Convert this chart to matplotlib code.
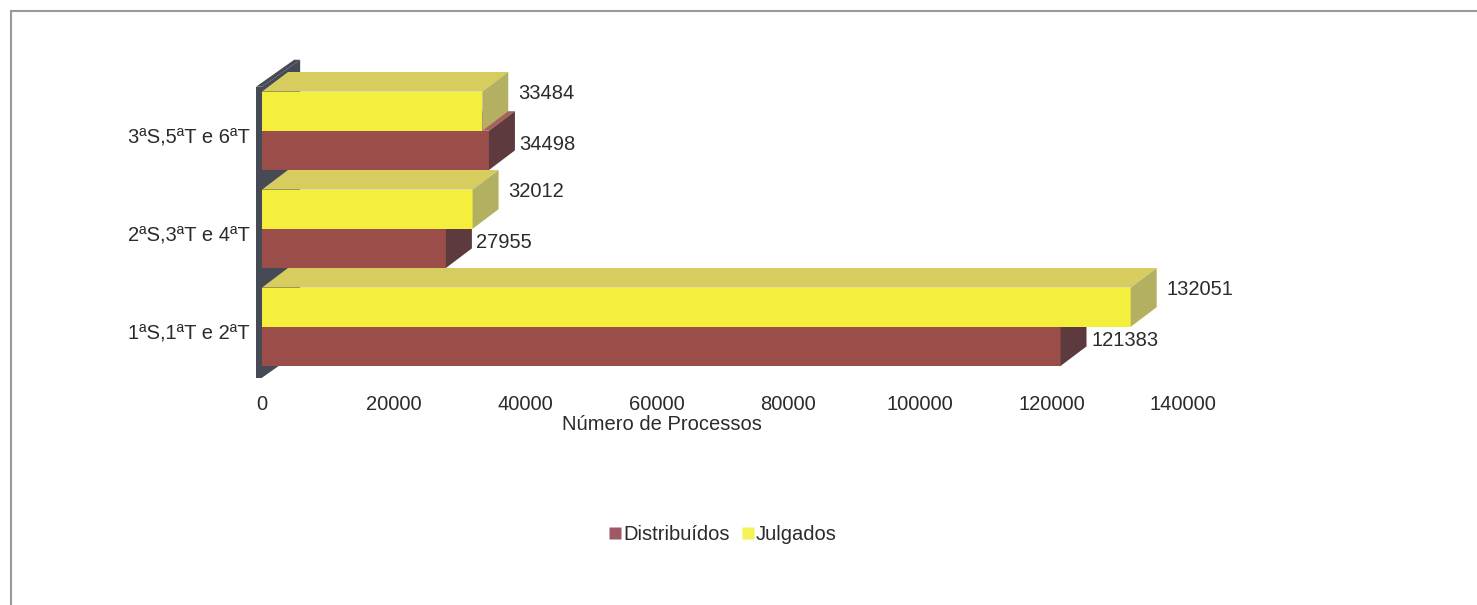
import matplotlib.pyplot as plt
from matplotlib.patches import Polygon
from matplotlib.lines import Line2D

plt.rcParams['font.family'] = ['Liberation Sans', 'DejaVu Sans']

categorias = ['1ªS,1ªT e 2ªT', '2ªS,3ªT e 4ªT', '3ªS,5ªT e 6ªT']
distribuidos = [121383, 27955, 34498]
julgados = [132051, 32012, 33484]
xticks = [0, 20000, 40000, 60000, 80000, 100000, 120000, 140000]

# 3d look: each bar gets a front face, a top face and a right face
h = 0.4          # bar height (one group = 1.0)
dx, dy = 3950, 0.2   # depth offset
cores = {
    'Distribuídos': ('#9b4d4a', '#a8625c', '#5d3a3e'),
    'Julgados': ('#f3ef3c', '#d6cd5e', '#b4b062'),
}
cor_legenda = {'Distribuídos': '#9c5a64', 'Julgados': '#f4f255'}
cor_texto = '#2b2b2b'
fs = 14.5

fig = plt.figure(figsize=(14.77, 6.05), dpi=100)
ax = fig.add_axes([262 / 1477, (605 - 366) / 605, 921 / 1477, 294 / 605])
ax.set_xlim(0, 140000)
ax.set_ylim(0, 3)


def caixa(x, y0, cor):
    frente, topo, lado = cor
    ax.add_patch(Polygon([(0, y0), (x, y0), (x, y0 + h), (0, y0 + h)],
                         closed=True, fc=frente, ec='none', clip_on=False, zorder=3))
    ax.add_patch(Polygon([(0, y0 + h), (x, y0 + h), (x + dx, y0 + h + dy), (dx, y0 + h + dy)],
                         closed=True, fc=topo, ec='none', clip_on=False, zorder=3))
    ax.add_patch(Polygon([(x, y0), (x + dx, y0 + dy), (x + dx, y0 + h + dy), (x, y0 + h)],
                         closed=True, fc=lado, ec='none', clip_on=False, zorder=3))


# back wall on the left
t, wdx, wdy = 900, 5800, 0.275
yb, yt = -0.12, 2.85
parede = '#454a55'
ax.add_patch(Polygon([(-t, yb), (0, yb), (0, yt), (-t, yt)],
                     closed=True, fc=parede, ec='none', clip_on=False, zorder=2))
ax.add_patch(Polygon([(0, yb), (wdx, yb + wdy), (wdx, yt + wdy), (0, yt)],
                     closed=True, fc=parede, ec='none', clip_on=False, zorder=2))
ax.add_patch(Polygon([(-t, yt), (0, yt), (wdx, yt + wdy), (wdx - t, yt + wdy)],
                     closed=True, fc=parede, ec='none', clip_on=False, zorder=2))

for i in range(len(categorias)):
    caixa(distribuidos[i], i, cores['Distribuídos'])
    caixa(julgados[i], i + h, cores['Julgados'])
    ax.text(julgados[i] + dx + 1500, i + 1.5 * h + 0.18, str(julgados[i]),
            va='center', ha='left', fontsize=fs, color=cor_texto, zorder=4)
    ax.text(distribuidos[i] + dx + 700, i + 0.5 * h + 0.06, str(distribuidos[i]),
            va='center', ha='left', fontsize=fs, color=cor_texto, zorder=4)

ax.set_xticks(xticks)
ax.set_xticklabels([str(v) for v in xticks])
ax.set_yticks([i + h - 0.05 for i in range(len(categorias))])
ax.set_yticklabels(categorias)
ax.tick_params(axis='x', length=0, pad=21, labelsize=fs, colors=cor_texto)
ax.tick_params(axis='y', length=0, pad=9, labelsize=fs, colors=cor_texto)
ax.set_xlabel('Número de Processos', fontsize=fs, color=cor_texto)
ax.xaxis.set_label_coords((662 - 262) / 921, -(425 - 366) / 294)
ax.xaxis.label.set_va('center')
for s in ax.spines.values():
    s.set_visible(False)
ax.patch.set_alpha(0)

handles = [Line2D([], [], ls='none', marker='s', ms=8, mfc=cor_legenda[k], mec='none') for k in cores]
fig.legend(handles, list(cores), loc='center', bbox_to_anchor=(720 / 1477, 1 - 535 / 605),
           ncol=2, frameon=False, fontsize=fs, handletextpad=-0.2, columnspacing=0.3,
           handlelength=1.2, labelcolor=cor_texto)

# outer frame (top and left edges)
fig.add_artist(Line2D([11 / 1477, 1], [1 - 11 / 605] * 2, color='#999999', lw=1.5))
fig.add_artist(Line2D([11 / 1477] * 2, [0, 1 - 11 / 605], color='#999999', lw=1.5))

fig.savefig('out.png', dpi=100, facecolor='white')
